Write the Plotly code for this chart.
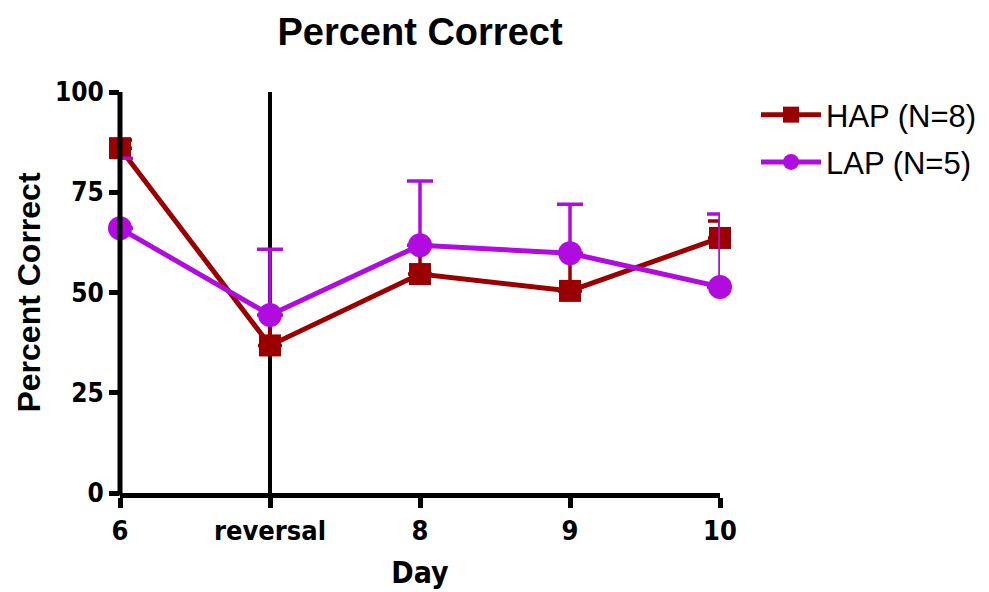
import plotly.graph_objects as go

days = ["6", "reversal", "8", "9", "10"]
hap = [86, 36.8, 54.6, 50.4, 63.6]
hap_err = [2.0, 7.6, 7.2, 9.4, 4.2]
lap = [66, 44.4, 61.8, 59.8, 51.4]
lap_err = [17.5, 16.4, 16.0, 12.2, 18.2]
yticks = [0, 25, 50, 75, 100]

HAP_C = "#9B0000"
LAP_C = "#B00CE0"
COND = "DejaVu Sans Condensed, DejaVu Sans"
ARIAL = "Liberation Sans, Arial"

xs = list(range(len(days)))
fig = go.Figure()
fig.add_trace(go.Scatter(
    x=xs, y=hap, name="HAP (N=8)", mode="lines+markers", legendgroup="a",
    line=dict(color=HAP_C, width=5),
    marker=dict(symbol="square", size=22, color=HAP_C),
    error_y=dict(type="data", array=hap_err, symmetric=False, arrayminus=[0]*5,
                 color=HAP_C, thickness=3.5, width=12),
    cliponaxis=False))
fig.add_trace(go.Scatter(
    x=xs, y=lap, name="LAP (N=5)", mode="lines+markers", legendgroup="b",
    line=dict(color=LAP_C, width=5),
    marker=dict(symbol="circle", size=24, color=LAP_C),
    error_y=dict(type="data", array=lap_err, symmetric=False, arrayminus=[0]*5,
                 color=LAP_C, thickness=3.5, width=13),
    cliponaxis=False))

# reversal marker line (below data)
fig.add_shape(type="line", xref="x", yref="y", x0=1, x1=1, y0=0, y1=100,
              line=dict(color="black", width=4), layer="below")
# y axis line drawn on top, centred on the first category
fig.add_shape(type="line", xref="paper", yref="paper", x0=0, x1=0, y0=-0.006, y1=1,
              line=dict(color="black", width=5), layer="above")

fig.update_layout(
    width=989, height=592,
    margin=dict(l=120, r=269, t=92, b=99, autoexpand=False),
    plot_bgcolor="white", paper_bgcolor="white",
    title=dict(text="<b>Percent Correct</b>", x=(120 + 300) / 989, xanchor="center",
               y=1 - 32 / 592, yanchor="middle",
               font=dict(family=ARIAL, size=38, color="black")),
    xaxis=dict(range=[0, 4], tickmode="array", tickvals=xs,
               ticktext=["<b>%s</b>" % d for d in days],
               showline=True, linecolor="black", linewidth=5, layer="above traces",
               ticks="outside", tickwidth=4.5, ticklen=10, tickcolor="black",
               showgrid=False, zeroline=False, automargin=False,
               tickfont=dict(family=COND, size=27, color="black"),
               title=dict(text="<b>Day</b>", standoff=18,
                          font=dict(family=COND, size=30, color="black"))),
    yaxis=dict(range=[0, 100], tickmode="array", tickvals=yticks,
               ticktext=["<b>%d</b>" % v for v in yticks],
               showline=False, layer="above traces",
               ticks="outside", tickwidth=4.5, ticklen=10, tickcolor="black",
               showgrid=False, zeroline=False, automargin=False,
               tickfont=dict(family=COND, size=26, color="black"),
               title=dict(text="<b>Percent Correct</b>", standoff=4,
                          font=dict(family=ARIAL, size=32, color="black"))),
    legend=dict(x=1.06, y=1.01, xanchor="left", yanchor="top",
                font=dict(family=ARIAL, size=31, color="black"),
                itemwidth=60, tracegroupgap=4, bgcolor="rgba(0,0,0,0)"),
    showlegend=True,
)

fig.write_html("out.html")
